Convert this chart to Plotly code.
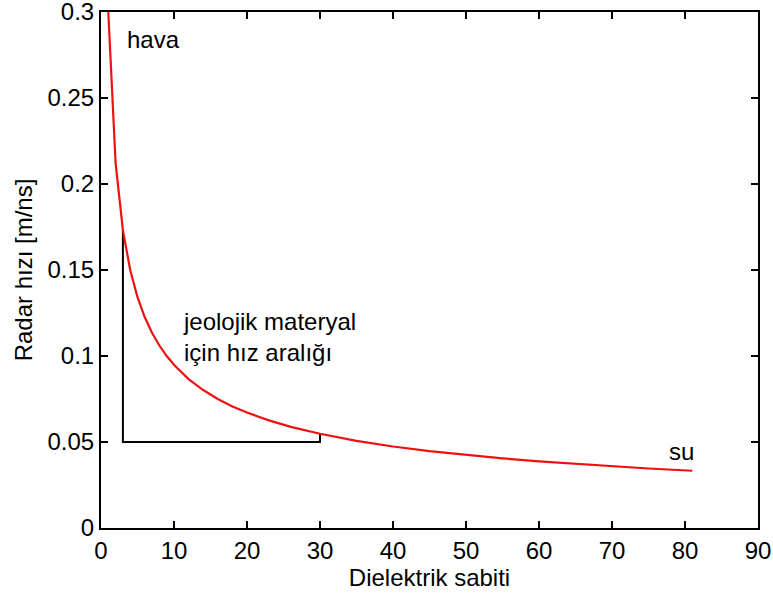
import plotly.graph_objects as go

# Data
eps = [1, 2, 3, 4, 5, 6, 7, 8, 9, 10, 12, 14, 16, 18, 20, 23, 26, 30, 35, 40,
       45, 50, 55, 60, 65, 70, 75, 81]
vel = [0.3000, 0.2121, 0.1732, 0.1500, 0.1342, 0.1225, 0.1134, 0.1061, 0.1000,
       0.0949, 0.0866, 0.0802, 0.0750, 0.0707, 0.0671, 0.0626, 0.0588, 0.0548,
       0.0507, 0.0474, 0.0447, 0.0424, 0.0405, 0.0387, 0.0372, 0.0359, 0.0346,
       0.0333]

bracket_x = [3, 3, 30, 30]
bracket_y = [0.1732, 0.05, 0.05, 0.0548]

x_ticks = [0, 10, 20, 30, 40, 50, 60, 70, 80, 90]
y_ticks = [0, 0.05, 0.1, 0.15, 0.2, 0.25, 0.3]
y_tick_labels = ["0", "0.05", "0.1", "0.15", "0.2", "0.25", "0.3"]

FONT = "Liberation Sans, Arial, sans-serif"
FS = 24

fig = go.Figure()
fig.add_trace(go.Scatter(x=bracket_x, y=bracket_y, mode="lines",
                         line=dict(color="black", width=2), showlegend=False))
fig.add_trace(go.Scatter(x=eps, y=vel, mode="lines",
                         line=dict(color="#ee1111", width=2.2), showlegend=False))

fig.add_annotation(x=3.3, y=0.284, text="hava", showarrow=False,
                   xanchor="left", yanchor="middle")
fig.add_annotation(x=10.9, y=0.111, text="jeolojik materyal<br>için hız aralığı",
                   showarrow=False, xanchor="left", yanchor="middle", align="left")
fig.add_annotation(x=77.5, y=0.0445, text="su", showarrow=False,
                   xanchor="left", yanchor="middle")

axis_common = dict(showline=True, linecolor="black", linewidth=2, mirror="ticks",
                   ticks="inside", ticklen=7, tickwidth=1.5, tickcolor="black",
                   showgrid=False, zeroline=False, automargin=False,
                   ticklabeloverflow="allow",
                   tickfont=dict(size=FS, color="black", family=FONT))

fig.update_xaxes(range=[0, 90.0001], tickvals=x_ticks,
                 title=dict(text="Dielektrik sabiti",
                            font=dict(size=FS, color="black", family=FONT), standoff=6),
                 **axis_common)
fig.update_yaxes(range=[0, 0.30001], tickvals=y_ticks, ticktext=y_tick_labels,
                 title=dict(text="Radar hızı [m/ns]",
                            font=dict(size=FS, color="black", family=FONT), standoff=8),
                 **axis_common)

fig.update_layout(width=773, height=596, autosize=False,
                  margin=dict(l=101, r=15, t=12, b=68),
                  paper_bgcolor="white", plot_bgcolor="white",
                  font=dict(family=FONT, size=FS, color="black"))

fig.write_html("out.html")
